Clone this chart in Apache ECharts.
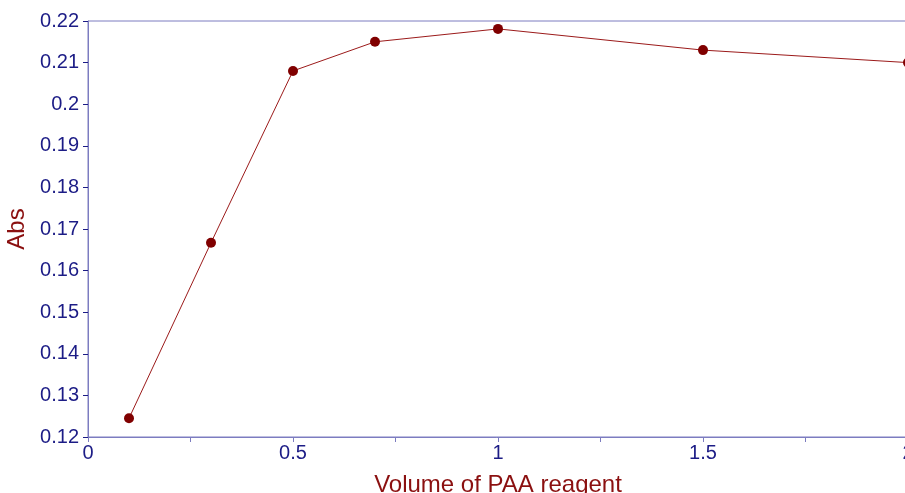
<!DOCTYPE html>
<html><head><meta charset="utf-8">
<script src="https://cdn.jsdelivr.net/npm/echarts@6/dist/echarts.min.js"></script>
<style>html,body{margin:0;padding:0;background:#fff}#c{width:905px;height:493px}</style>
</head><body><div id="c"></div>
<script>
const volumes = [0.1, 0.3, 0.5, 0.7, 1.0, 1.5, 2.0];
const absValues = [0.1245, 0.1667, 0.2080, 0.2150, 0.2181, 0.2130, 0.2100];
const xTitle = 'Volume of PAA reagent';
const yTitle = 'Abs';

const chart = echarts.init(document.getElementById('c'));
const axisBlue = '#7c7cc0';
const labelBlue = '#1c1c86';
const red = '#8b1010';
chart.setOption({
  animation: false,
  grid: { left: 88, top: 21, width: 820, height: 416, show: true, borderColor: axisBlue, borderWidth: 1, containLabel: false, outerBoundsMode: 'none' },
  xAxis: {
    type: 'value', min: 0, max: 2, interval: 0.25,
    name: xTitle, nameLocation: 'middle', nameGap: 36,
    nameTextStyle: { color: red, fontSize: 24, fontFamily: 'Liberation Sans' },
    axisLine: { show: true, lineStyle: { color: axisBlue, width: 1 } },
    axisTick: { show: true, length: 5, lineStyle: { color: axisBlue } },
    splitLine: { show: false },
    axisLabel: {
      color: labelBlue, fontSize: 20, fontFamily: 'Liberation Sans', margin: 6,
      formatter: v => (Math.abs(v * 2 - Math.round(v * 2)) < 1e-9 ? String(v) : '')
    }
  },
  yAxis: {
    type: 'value', min: 0.12, max: 0.22, interval: 0.01,
    name: yTitle, nameLocation: 'middle', nameGap: 51, nameRotate: 90,
    nameTextStyle: { color: red, fontSize: 24, fontFamily: 'Liberation Sans' },
    axisLine: { show: true, lineStyle: { color: axisBlue, width: 1 } },
    axisTick: { show: true, length: 5, lineStyle: { color: labelBlue } },
    splitLine: { show: false },
    axisLabel: {
      color: labelBlue, fontSize: 20, fontFamily: 'Liberation Sans', margin: 9,
      formatter: v => String(Math.round(v * 100) / 100)
    }
  },
  series: [{
    type: 'line',
    data: volumes.map((v, i) => [v, absValues[i]]),
    symbol: 'circle', symbolSize: 10,
    itemStyle: { color: '#800000' },
    lineStyle: { color: '#9b1a1a', width: 1 }
  }]
});
</script></body></html>
